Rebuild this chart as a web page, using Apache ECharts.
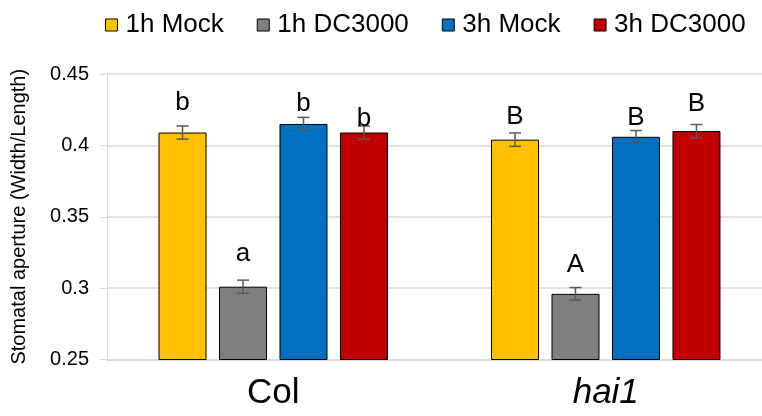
<!DOCTYPE html>
<html>
<head>
<meta charset="utf-8">
<script src="https://cdn.jsdelivr.net/npm/echarts@6/dist/echarts.min.js"></script>
<style>html,body{margin:0;padding:0;background:#fff}#c{width:762px;height:416px}</style>
</head>
<body>
<div id="c"></div>
<script>
const categories = ['Col', 'hai1'];
const seriesNames = ['1h Mock', '1h DC3000', '3h Mock', '3h DC3000'];
const mock1h = [0.409, 0.404];
const dc1h = [0.301, 0.296];
const mock3h = [0.415, 0.406];
const dc3h = [0.409, 0.410];
const err1hMock = [0.0046, 0.0047];
const err1hDC = [0.0046, 0.0044];
const err3hMock = [0.0046, 0.0044];
const err3hDC = [0.0046, 0.0046];
const letters1hMock = ['b', 'B'];
const letters1hDC = ['a', 'A'];
const letters3hMock = ['b', 'B'];
const letters3hDC = ['b', 'B'];
const letterLevel1hMock = [0.4243, 0.4143];
const letterLevel1hDC = [0.3185, 0.3104];
const letterLevel3hMock = [0.4236, 0.4138];
const letterLevel3hDC = [0.4130, 0.4236];
const yTicks = ['0.25', '0.3', '0.35', '0.4', '0.45'];

const colors = ['#FFC000', '#7F7F7F', '#0070C0', '#C00000'];
const values = [mock1h, dc1h, mock3h, dc3h];
const errs = [err1hMock, err1hDC, err3hMock, err3hDC];
const letters = [letters1hMock, letters1hDC, letters3hMock, letters3hDC];
const levels = [letterLevel1hMock, letterLevel1hDC, letterLevel3hMock, letterLevel3hDC];

const BAR_W = 48, GAP_PCT = 26;
const STEP = BAR_W * (1 + GAP_PCT / 100);
const FONT = '"Liberation Sans", Arial, sans-serif';
const LETTER_FS = 26;
const DESCENT = 5;

const chart = echarts.init(document.getElementById('c'), null, {renderer: 'canvas'});

const series = [];
values.forEach((vals, si) => {
  series.push({
    name: seriesNames[si],
    type: 'bar',
    data: vals,
    barWidth: BAR_W,
    barGap: GAP_PCT + '%',
    itemStyle: {color: colors[si], borderColor: '#000', borderWidth: 1},
    emphasis: {disabled: true},
    animation: false
  });
});
values.forEach((vals, si) => {
  series.push({
    type: 'custom',
    silent: true,
    animation: false,
    z: 5,
    data: vals.map((v, ci) => [ci, v, errs[si][ci], levels[si][ci]]),
    encode: {x: 0, y: 1},
    renderItem: function (params, api) {
      const ci = api.value(0), v = api.value(1), e = api.value(2), lv = api.value(3);
      const txt = letters[si][ci];
      const base = api.coord([ci, v]);
      const x = base[0] + (si - 1.5) * STEP;
      const yTop = api.coord([ci, v + e])[1];
      const yBot = api.coord([ci, v - e])[1];
      const yLet = api.coord([ci, lv])[1] + DESCENT;
      const cap = 6;
      const ls = {stroke: '#595959', lineWidth: 1.5};
      return {
        type: 'group',
        children: [
          {type: 'line', shape: {x1: x, y1: yTop, x2: x, y2: yBot}, style: ls},
          {type: 'line', shape: {x1: x - cap, y1: yTop, x2: x + cap, y2: yTop}, style: ls},
          {type: 'line', shape: {x1: x - cap, y1: yBot, x2: x + cap, y2: yBot}, style: ls},
          {type: 'text', x: x, y: yLet, style: {text: txt, fill: '#000', font: LETTER_FS + 'px ' + FONT, textAlign: 'center', textVerticalAlign: 'bottom'}}
        ]
      };
    }
  });
});

chart.setOption({
  animation: false,
  textStyle: {fontFamily: FONT},
  legend: {
    data: seriesNames,
    left: 100,
    top: 7,
    itemWidth: 12,
    itemHeight: 12,
    itemGap: 33,
    icon: 'rect',
    itemStyle: {borderColor: '#000', borderWidth: 1},
    textStyle: {fontSize: 26, color: '#000', fontFamily: FONT, padding: [0, 0, 0, 3]},
    selectedMode: false
  },
  grid: {left: 107, width: 665, top: 74, bottom: 56.5, containLabel: false, outerBoundsMode: 'none'},
  xAxis: {
    type: 'category',
    data: categories.map(c => c === 'hai1' ? {value: c, textStyle: {fontStyle: 'italic'}} : c),
    axisLine: {lineStyle: {color: '#D9D9D9', width: 1.5}},
    axisTick: {show: false},
    axisLabel: {fontSize: 35, color: '#000', margin: 16, fontFamily: FONT}
  },
  yAxis: {
    type: 'value',
    min: 0.25,
    max: 0.45,
    interval: 0.05,
    name: 'Stomatal aperture (Width/Length)',
    nameLocation: 'middle',
    nameGap: 78,
    nameTextStyle: {fontSize: 20, color: '#000', fontFamily: FONT},
    axisLine: {show: true, lineStyle: {color: '#D9D9D9', width: 1}},
    axisTick: {show: true, length: 7, lineStyle: {color: '#D9D9D9'}},
    splitLine: {lineStyle: {color: '#D9D9D9', width: 1.5}},
    axisLabel: {
      fontSize: 20, color: '#000', margin: 18, fontFamily: FONT,
      formatter: function (v) {
        const idx = Math.round((v - 0.25) / 0.05);
        return yTicks[idx];
      }
    }
  },
  series: series
});
</script>
</body>
</html>
